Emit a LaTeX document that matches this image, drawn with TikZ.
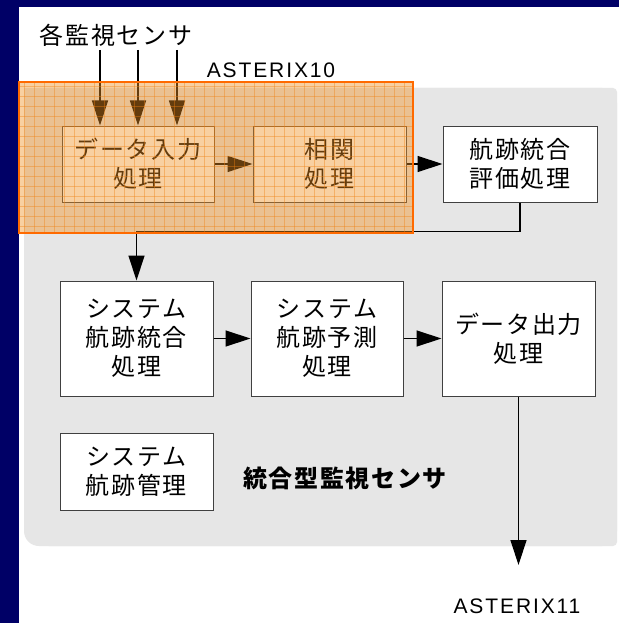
\documentclass[tikz,border=0pt]{standalone}
\usepackage{fontspec}
\setmainfont{Liberation Sans}
\newfontfamily\cjk[LetterSpace=7]{Noto Sans CJK JP}
\newfontfamily\lat[LetterSpace=9]{Liberation Sans}
\usetikzlibrary{arrows.meta}
\definecolor{navy}{HTML}{000066}
\definecolor{panel}{HTML}{E6E6E6}
\definecolor{boxline}{HTML}{404040}
\definecolor{ov}{HTML}{F09020}
\definecolor{ovgrid}{HTML}{F08010}
\definecolor{ovborder}{HTML}{FF6A00}
\tikzset{
  procbox/.style={draw=boxline, line width=1pt, fill=white, align=center,
    inner sep=0pt, font=\cjk\fontsize{24}{29}\selectfont},
  flow/.style={draw=black, line width=1.3pt,
    -{Triangle[length=25pt,width=16pt]}},
}
\begin{document}
\begin{tikzpicture}[x=1pt,y=-1pt]
\useasboundingbox (0,0) rectangle (619,623);
% frame
\fill[navy] (0,0) rectangle (619,623);
\fill[white] (19,7) rectangle (619,623);
% gray panel
\fill[panel, rounded corners=15pt] (24,88) rectangle (617,546);
\fill[panel, rounded corners=4pt] (45,88) rectangle (617,546);
\fill[panel] (24,88) rectangle (60,500);
% boxes
\node[procbox, minimum width=152pt, minimum height=76pt] (b1) at (138,164) {データ入力\\処理};
\node[procbox, minimum width=153pt, minimum height=76pt] (b2) at (329.5,164) {相関\\処理};
\node[procbox, minimum width=154pt, minimum height=76pt] (b3) at (520,164) {航跡統合\\評価処理};
\node[procbox, minimum width=153pt, minimum height=115pt] (b4) at (136.5,338.5) {システム\\航跡統合\\処理};
\node[procbox, minimum width=152pt, minimum height=115pt] (b5) at (327,338.5) {システム\\航跡予測\\処理};
\node[procbox, minimum width=153pt, minimum height=115pt] (b6) at (518.5,338.5) {データ出力\\処理};
\node[procbox, minimum width=153pt, minimum height=77pt] (b7) at (136.5,471.5) {システム\\航跡管理};
% texts
\node[font=\cjk\fontsize{24}{29}\selectfont, inner sep=0pt] (sens) at (116,35) {各監視センサ};
\node[font=\cjk\bfseries\fontsize{24}{29}\selectfont, inner sep=0pt] (integ) at (345,478) {統合型監視センサ};
\node[font=\lat\fontsize{21}{25}\selectfont, inner sep=0pt] (ast11) at (517,606) {ASTERIX11};
% connectors
\coordinate (s1) at (100,50);
\coordinate (s2) at (138,50);
\coordinate (s3) at (177,50);
\draw[flow] (s1) -- (s1 |- b1.north);
\draw[flow] (s2) -- (s2 |- b1.north);
\draw[flow] (s3) -- (s3 |- b1.north);
\draw[flow] (b1.east) -- (b2.west);
\draw[flow] (b2.east) -- (b3.west);
\draw[flow] (b3.south) -- ++(0,29) -| (b4.north);
\draw[flow] (b4.east) -- (b5.west);
\draw[flow] (b5.east) -- (b6.west);
\coordinate (out) at (518.5,565);
\draw[flow] (b6.south) -- (out);
% orange overlay
\fill[ov, fill opacity=0.42] (19,82) rectangle (413,233);
\begin{scope}
  \clip (19,82) rectangle (413,233);
  \foreach \gx in {24,34,...,414} {\draw[ovgrid, draw opacity=0.4, line width=0.7pt] (\gx,82) -- (\gx,233);}
  \foreach \gy in {86,96,...,234} {\draw[ovgrid, draw opacity=0.4, line width=0.7pt] (19,\gy) -- (413,\gy);}
\end{scope}
\draw[ovborder, line width=2pt] (19,82) rectangle (413,233);
\node[font=\lat\fontsize{21}{25}\selectfont, inner sep=0pt] (ast10) at (271,70) {ASTERIX10};
\end{tikzpicture}
\end{document}
